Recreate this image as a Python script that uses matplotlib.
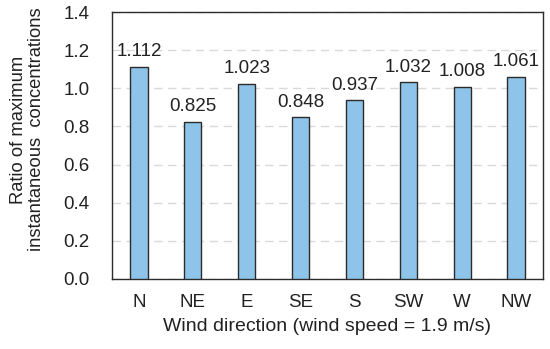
import numpy as np
import matplotlib
matplotlib.use("Agg")
import matplotlib.pyplot as plt

plt.rcParams["font.family"] = ["Liberation Sans", "DejaVu Sans"]

directions = ["N", "NE", "E", "SE", "S", "SW", "W", "NW"]
ratios = [1.112, 0.825, 1.023, 0.848, 0.937, 1.032, 1.008, 1.061]
yticks = [0.0, 0.2, 0.4, 0.6, 0.8, 1.0, 1.2, 1.4]

fig = plt.figure(figsize=(5.5, 3.49), dpi=100)
ax = fig.add_axes([0.2036, 0.2006, 0.7836, 0.765])

x = np.arange(len(directions))
ax.bar(x, ratios, width=0.32, color="#8EC4EA", edgecolor="#2b2b2b", linewidth=1.0, zorder=3)

for xi, v in zip(x, ratios):
    ax.text(xi, v + 0.035, f"{v:.3f}", ha="center", va="bottom", fontsize=13.5, color="#222222")

ax.set_ylim(0, 1.4)
ax.set_xlim(-0.5, len(directions) - 0.5)
ax.set_yticks(yticks)
ax.set_yticklabels([f"{t:.1f}" for t in yticks])
ax.set_xticks(x)
ax.set_xticklabels(directions)
ax.tick_params(axis="both", length=0, labelsize=13.5, colors="#222222")
ax.tick_params(axis="x", pad=10.5)
ax.tick_params(axis="y", pad=16)
ax.yaxis.grid(True, linestyle=(0, (6, 4)), color="#d9d9d9", linewidth=1.0, zorder=0)

for s in ax.spines.values():
    s.set_color("#2b2b2b")
    s.set_linewidth(1.0)

ax.set_xlabel("Wind direction (wind speed = 1.9 m/s)", fontsize=14, color="#222222", labelpad=5)
ax.set_ylabel("Ratio of maximum\ninstantaneous  concentrations", fontsize=13.2, color="#222222",
              linespacing=1.1)
ax.yaxis.set_label_coords(-0.155, 0.56)

fig.savefig("out.png", dpi=100)
